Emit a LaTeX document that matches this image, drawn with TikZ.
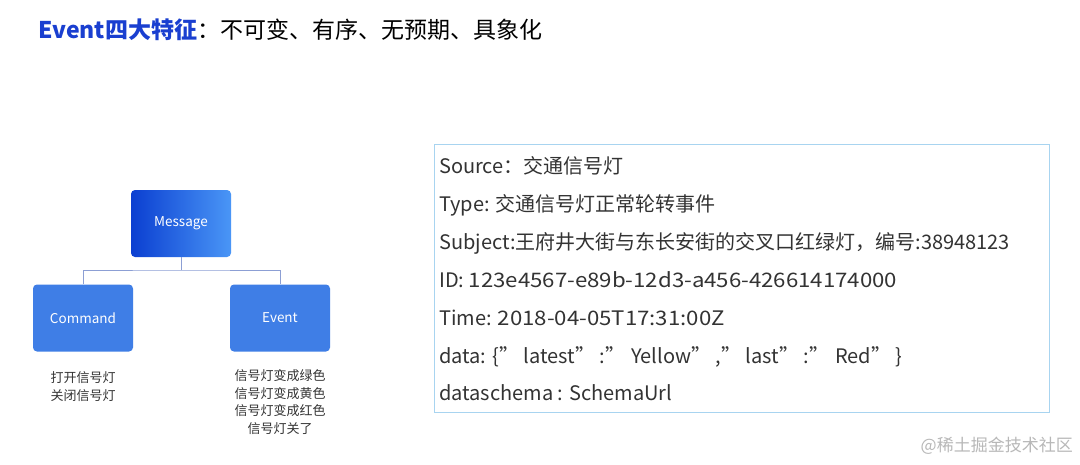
\documentclass[tikz,border=0pt]{standalone}
\usepackage{fontspec}
\setmainfont{Noto Sans CJK SC}
\newfontfamily\widefont[FakeStretch=1.11]{Noto Sans CJK SC}
\definecolor{titleblue}{HTML}{1A3FD0}
\definecolor{txt}{HTML}{333333}
\definecolor{boxblue}{HTML}{3F7EE6}
\definecolor{gradL}{HTML}{0B3FD1}
\definecolor{gradR}{HTML}{4A96F6}
\definecolor{linkc}{HTML}{8C9FD4}
\definecolor{frame}{HTML}{A8D4F0}
\tikzset{
  msgbox/.style={rounded corners=4pt, minimum width=100pt, minimum height=67pt, text=white, font=\fontsize{13.5}{15}\selectfont, inner sep=0pt},
  link/.style={draw=linkc, line width=0.9pt},
  note/.style={text=txt, font=\fontsize{13}{17.5}\selectfont, align=center, inner sep=0pt},
  field/.style={anchor=base west, text=txt, font=\fontsize{20}{24}\selectfont, inner sep=0pt},
}
\begin{document}
\begin{tikzpicture}[x=1pt,y=-1pt]
\useasboundingbox (0,0) rectangle (1080,464);
\fill[white] (0,0) rectangle (1080,464);
% title
\node[anchor=base west, inner sep=0pt, font=\fontsize{23}{26}\selectfont] (title) at (38,38)
  {\textcolor{titleblue}{\bfseries Event四大特征}：不可变、有序、无预期、具象化};
% tree
\node[msgbox, left color=gradL, right color=gradR] (msg) at (181,223.5) {Message};
\node[msgbox, fill=boxblue] (cmd) at (83,318) {Command};
\node[msgbox, fill=boxblue] (evt) at (280,318) {Event};
\coordinate (j) at (181,270);
\draw[link] (msg.south) -- (j);
\draw[link] (cmd.north) |- (j) -| (evt.north);
\node[note, anchor=north] (cmdn) at (83,371.5) {打开信号灯\\关闭信号灯};
\node[note, anchor=north] (evtn) at (280,369.5) {信号灯变成绿色\\信号灯变成黄色\\信号灯变成红色\\信号灯关了};
% right box
\node[draw=frame, line width=0.8pt, minimum width=615pt, minimum height=268pt, inner sep=0pt, anchor=north west] (frm) at (434,144) {};
\node[field] (f1) at (439,173.5) {Source：交通信号灯};
\node[field] (f2) at (439,211.5) {Type: 交通信号灯正常轮转事件};
\node[field] (f3) at (439,249.5) {Subject:王府井大街与东长安街的交叉口红绿灯，编号:38948123};
\node[field] (f4) at (439,287.5) {ID: {\widefont 123e4567-e89b-12d3-a456-426614174000}};
\node[field] (f5) at (439,325.5) {Time: {\widefont 2018-04-05T17:31:00Z}};
\node[field] (f6) at (439,363.5) {data: \{” latest” :” Yellow” ,” last” :” Red” \}};
\node[field] (f7) at (439,400.5) {dataschema : SchemaUrl};
% watermark
\node[anchor=east, text=black!28, font=\fontsize{17}{18}\selectfont, inner sep=0pt] (wm) at (1073,446) {@稀土掘金技术社区};
\end{tikzpicture}
\end{document}
